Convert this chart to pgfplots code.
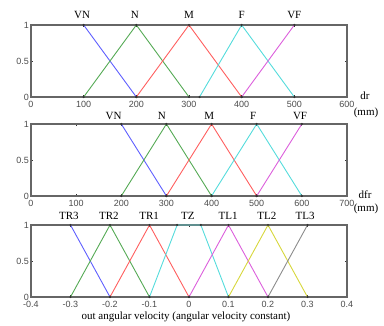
\documentclass[border=0pt]{standalone}
\usepackage{pgfplots}
\pgfplotsset{compat=1.18}
\usepackage{fontspec}
\setmainfont{Liberation Serif}
\setsansfont{Liberation Sans}
\definecolor{mfblue}{RGB}{95,95,255}
\definecolor{mfgreen}{RGB}{85,170,85}
\definecolor{mfred}{RGB}{255,95,95}
\definecolor{mfcyan}{RGB}{85,220,220}
\definecolor{mfmag}{RGB}{220,95,220}
\definecolor{mfyel}{RGB}{215,215,60}
\definecolor{mfgray}{RGB}{140,140,140}
\tikzset{lab/.style={font=\fontsize{11}{11}\selectfont, anchor=base}}
\pgfplotsset{
  mf/.style={
    scale only axis, width=316pt, height=72pt, anchor=north west,
    ymin=0, ymax=1, ytick={0,0.5,1},
    tick align=inside, major tick length=2pt,
    axis line style={draw=black!60, line width=1.1pt},
    tick style={black!80, line width=0.7pt},
    ticklabel style={font=\sffamily\fontsize{9}{9}\selectfont, text=black!70},
    /pgf/number format/assume math mode=true,
    xtick pos=both, ytick pos=both,
    xticklabel pos=lower, yticklabel pos=left,
    xticklabel style={yshift=-0.5pt},
    yticklabel style={xshift=1.5pt},
    clip=false,
    every axis plot/.append style={line width=0.9pt, mark=*, mark size=0.6pt,
      mark options={fill=black!80, draw=black!80}},
  },
}
\begin{document}
\begin{tikzpicture}
\path[use as bounding box] (0pt,0pt) rectangle (384pt,-325pt);
% Panel 1
\begin{axis}[mf, at={(31pt,-25pt)}, xmin=0, xmax=600, xtick={0,100,...,600}]
\addplot[mfblue] coordinates {(100,1) (200,0)};
\addplot[mfgreen] coordinates {(100,0) (200,1) (300,0)};
\addplot[mfred] coordinates {(200,0) (300,1) (400,0)};
\addplot[mfcyan] coordinates {(320,0) (400,1) (500,0)};
\addplot[mfmag] coordinates {(400,0) (500,1)};
\node[lab, yshift=7pt] at (axis cs:97,1) {VN};
\node[lab, yshift=7pt] at (axis cs:197,1) {N};
\node[lab, yshift=7pt] at (axis cs:300,1) {M};
\node[lab, yshift=7pt] at (axis cs:400,1) {F};
\node[lab, yshift=7pt] at (axis cs:500,1) {VF};
\end{axis}
% Panel 2
\begin{axis}[mf, at={(31pt,-124pt)}, xmin=0, xmax=700, xtick={0,100,...,700}]
\addplot[mfblue] coordinates {(200,1) (300,0)};
\addplot[mfgreen] coordinates {(200,0) (300,1) (400,0)};
\addplot[mfred] coordinates {(300,0) (400,1) (500,0)};
\addplot[mfcyan] coordinates {(400,0) (500,1) (600,0)};
\addplot[mfmag] coordinates {(500,0) (600,1)};
\node[lab, yshift=5pt] at (axis cs:183,1) {VN};
\node[lab, yshift=5pt] at (axis cs:290,1) {N};
\node[lab, yshift=5pt] at (axis cs:395,1) {M};
\node[lab, yshift=5pt] at (axis cs:492,1) {F};
\node[lab, yshift=5pt] at (axis cs:596,1) {VF};
\end{axis}
% Panel 3
\begin{axis}[mf, at={(31pt,-225pt)}, xmin=-0.4, xmax=0.4, xtick={-0.4,-0.3,-0.2,-0.1,0,0.1,0.2,0.3,0.4},
  xticklabels={-0.4,-0.3,-0.2,-0.1,0,0.1,0.2,0.3,0.4}]
\addplot[mfblue] coordinates {(-0.3,1) (-0.2,0)};
\addplot[mfgreen] coordinates {(-0.3,0) (-0.2,1) (-0.1,0)};
\addplot[mfred] coordinates {(-0.2,0) (-0.1,1) (0,0)};
\addplot[mfcyan] coordinates {(-0.1,0) (-0.03,1) (0.03,1) (0.1,0)};
\addplot[mfmag] coordinates {(0,0) (0.1,1) (0.2,0)};
\addplot[mfyel] coordinates {(0.1,0) (0.2,1) (0.3,0)};
\addplot[mfgray] coordinates {(0.2,0) (0.3,1)};
\node[lab, yshift=6pt] at (axis cs:-0.304,1) {TR3};
\node[lab, yshift=6pt] at (axis cs:-0.203,1) {TR2};
\node[lab, yshift=6pt] at (axis cs:-0.101,1) {TR1};
\node[lab, yshift=6pt] at (axis cs:-0.003,1) {TZ};
\node[lab, yshift=6pt] at (axis cs:0.099,1) {TL1};
\node[lab, yshift=6pt] at (axis cs:0.197,1) {TL2};
\node[lab, yshift=6pt] at (axis cs:0.294,1) {TL3};
\end{axis}
\node[font=\fontsize{11}{11}\selectfont] at (365pt,-96pt) {dr};
\node[font=\fontsize{11}{11}\selectfont] at (366pt,-113pt) {(mm)};
\node[font=\fontsize{11}{11}\selectfont] at (365pt,-195pt) {dfr};
\node[font=\fontsize{11}{11}\selectfont] at (366pt,-209pt) {(mm)};
\node[font=\fontsize{11}{11}\selectfont] at (186pt,-317pt) {out angular velocity (angular velocity constant)};
\end{tikzpicture}
\end{document}
